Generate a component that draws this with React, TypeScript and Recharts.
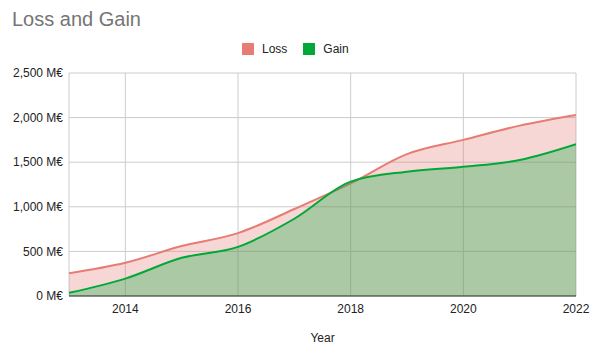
import React from "react";
import { AreaChart, Area, XAxis, YAxis, CartesianGrid } from "recharts";

const years = [2013, 2014, 2015, 2016, 2017, 2018, 2019, 2020, 2021, 2022];
const loss = [255, 372, 560, 705, 975, 1262, 1590, 1750, 1910, 2030];
const gain = [35, 195, 428, 551, 866, 1282, 1394, 1448, 1525, 1702];
const xTicks = [2014, 2016, 2018, 2020, 2022];
const yTicks = [0, 500, 1000, 1500, 2000, 2500];

const LOSS_COLOR = "#e67c73";
const GAIN_COLOR = "#00a838";
const FONT = "'Liberation Sans', Arial, sans-serif";

const data = years.map((y, i) => ({ year: y, Loss: loss[i], Gain: gain[i] }));

const fmt = (v: number) => `${v.toLocaleString("en-US")} M€`;

export default function App() {
  return (
    <div
      style={{
        position: "absolute",
        left: 0,
        top: 0,
        width: 593,
        height: 355,
        background: "#fff",
        fontFamily: FONT,
      }}
    >
      <div
        style={{
          position: "absolute",
          left: 12,
          top: 8,
          fontSize: 20,
          color: "#757575",
          lineHeight: "23px",
          whiteSpace: "nowrap",
        }}
      >
        Loss and Gain
      </div>
      <div
        style={{
          position: "absolute",
          left: 242,
          top: 43,
          display: "flex",
          alignItems: "center",
          fontSize: 12,
          color: "#222",
          height: 12,
          whiteSpace: "nowrap",
        }}
      >
        {[
          { name: "Loss", color: LOSS_COLOR },
          { name: "Gain", color: GAIN_COLOR },
        ].map((it, i) => (
          <div
            key={it.name}
            style={{ display: "flex", alignItems: "center", marginLeft: i ? 16 : 0 }}
          >
            <span
              style={{ width: 12, height: 12, background: it.color, display: "inline-block" }}
            />
            <span style={{ marginLeft: 8, lineHeight: "12px" }}>{it.name}</span>
          </div>
        ))}
      </div>
      <AreaChart
        width={593}
        height={355}
        data={data}
        margin={{ top: 73, right: 17, left: 0, bottom: 0 }}
        style={{ fontFamily: FONT }}
      >
        <CartesianGrid stroke="#cccccc" strokeWidth={1} />
        <XAxis
          dataKey="year"
          type="number"
          domain={[2013, 2022]}
          ticks={xTicks}
          allowDataOverflow
          tickLine={false}
          axisLine={{ stroke: "#333333", strokeWidth: 1 }}
          tickSize={0}
          tickMargin={8}
          height={59}
          tick={{ fontSize: 12, fill: "#222222" }}
          label={{
            value: "Year",
            position: "insideBottom",
            offset: 13,
            fontSize: 12,
            fill: "#222222",
          }}
        />
        <YAxis
          type="number"
          domain={[0, 2500]}
          ticks={yTicks}
          width={69}
          axisLine={false}
          tickLine={false}
          tickSize={0}
          tickMargin={6}
          tickFormatter={fmt}
          tick={{ fontSize: 12, fill: "#222222" }}
        />
        <Area
          type="monotone"
          dataKey="Loss"
          stroke={LOSS_COLOR}
          strokeWidth={2}
          fill={LOSS_COLOR}
          fillOpacity={0.3}
          dot={false}
          activeDot={false}
          isAnimationActive={false}
        />
        <Area
          type="monotone"
          dataKey="Gain"
          stroke={GAIN_COLOR}
          strokeWidth={2}
          fill={GAIN_COLOR}
          fillOpacity={0.3}
          dot={false}
          activeDot={false}
          isAnimationActive={false}
        />
      </AreaChart>
    </div>
  );
}
